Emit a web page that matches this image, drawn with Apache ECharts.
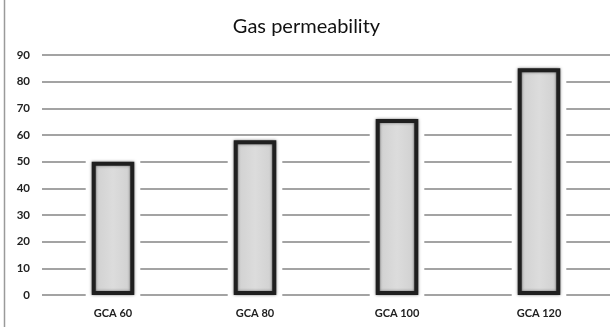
<!DOCTYPE html>
<html>
<head>
<meta charset="utf-8">
<script src="https://cdn.jsdelivr.net/npm/echarts@6/dist/echarts.min.js"></script>
<style>
  html, body { margin: 0; padding: 0; background: #fff; }
  #chart { width: 613px; height: 327px; }
</style>
</head>
<body>
<div id="chart"></div>
<script>
// Gas permeability per GCA mix
const categories = ['GCA 60', 'GCA 80', 'GCA 100', 'GCA 120'];
const permeability = [50, 58, 66, 85];
const yTicks = { min: 0, max: 90, interval: 10 };

const FONT = 'Lato, "Open Sans", sans-serif';
const BAR_RATIO = 0.3;
const chart = echarts.init(document.getElementById('chart'), null, { renderer: 'canvas' });

// white halo behind each bar, so gridlines stop a few pixels short of it
function renderHalo(params, api) {
  const top = api.coord([api.value(0), api.value(1)]);
  const base = api.coord([api.value(0), 0]);
  const w = api.size([1, 0])[0] * BAR_RATIO + 12;
  return {
    type: 'rect',
    shape: { x: top[0] - w / 2, y: top[1] - 4, width: w, height: base[1] - top[1] + 8 },
    style: { fill: '#ffffff' }
  };
}

chart.setOption({
  backgroundColor: '#ffffff',
  animation: false,
  title: {
    text: 'Gas permeability',
    left: 'center',
    top: 12,
    textStyle: { fontFamily: FONT, fontSize: 20, fontWeight: 'normal', color: '#111' }
  },
  grid: { left: 42, right: 3, top: 55, bottom: 32, containLabel: false },
  xAxis: {
    type: 'category',
    data: categories,
    axisLine: { show: false },
    axisTick: { show: false },
    axisLabel: {
      margin: 13,
      fontFamily: FONT,
      fontSize: 11,
      fontWeight: 'bold',
      color: '#222'
    }
  },
  yAxis: {
    type: 'value',
    min: yTicks.min,
    max: yTicks.max,
    interval: yTicks.interval,
    axisLine: { show: false },
    axisTick: { show: false },
    axisLabel: {
      margin: 12,
      fontFamily: FONT,
      fontSize: 11.5,
      fontWeight: 'bold',
      color: '#222'
    },
    splitLine: { lineStyle: { color: '#a3a3a3', width: 2 } }
  },
  series: [
    {
      type: 'custom',
      silent: true,
      renderItem: renderHalo,
      data: permeability.map((v, i) => [i, v]),
      z: 1
    },
    {
      type: 'bar',
      name: 'Gas permeability',
      data: permeability,
      barWidth: (BAR_RATIO * 100) + '%',
      z: 2,
      itemStyle: {
        color: {
          type: 'linear', x: 0, y: 0, x2: 1, y2: 0,
          colorStops: [
            { offset: 0, color: '#8a8a8a' },
            { offset: 0.13, color: '#d2d2d2' },
            { offset: 0.5, color: '#dcdcdc' },
            { offset: 0.87, color: '#d2d2d2' },
            { offset: 1, color: '#8a8a8a' }
          ]
        },
        borderColor: '#1f1f1f',
        borderWidth: 4,
        shadowColor: 'rgba(0,0,0,0.5)',
        shadowBlur: 3
      }
    }
  ],
  graphic: [
    {
      type: 'line',
      shape: { x1: 4.5, y1: 0, x2: 4.5, y2: 327 },
      style: { stroke: '#9a9a9a', lineWidth: 1.5 }
    }
  ]
});
</script>
</body>
</html>
